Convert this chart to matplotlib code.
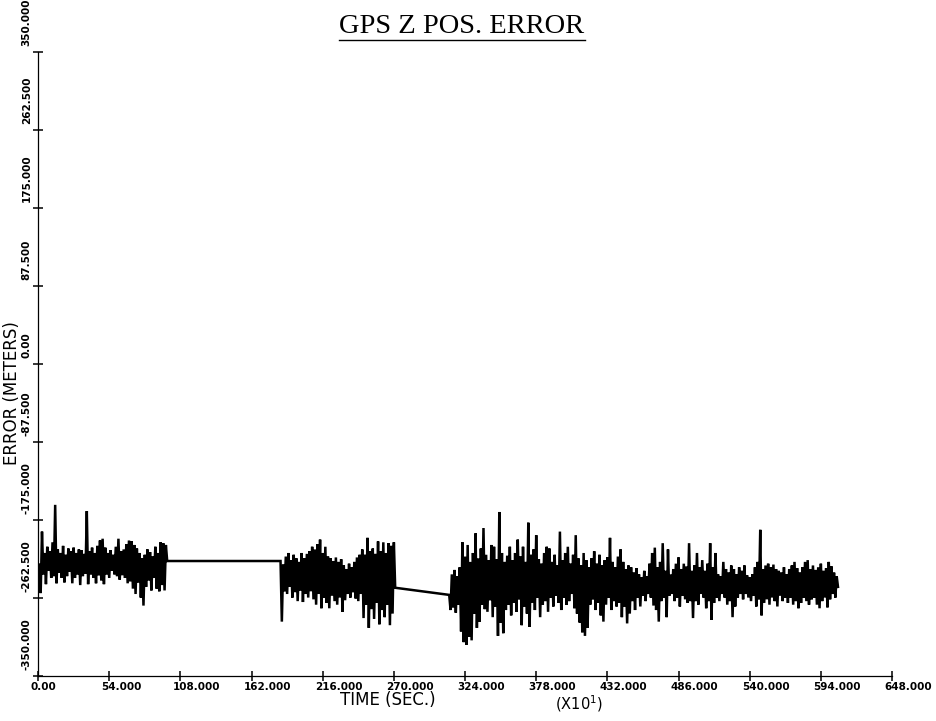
import numpy as np
import matplotlib
matplotlib.use("Agg")
import matplotlib.pyplot as plt
from matplotlib.transforms import ScaledTranslation

# axis ticks
xticks = [0, 54, 108, 162, 216, 270, 324, 378, 432, 486, 540, 594, 648]
xlabels = ['0.00', '54.000', '108.000', '162.000', '216.000', '270.000', '324.000',
           '378.000', '432.000', '486.000', '540.000', '594.000', '648.000']
yticks = [-350, -262.5, -175, -87.5, 0, 87.5, 175, 262.5, 350]
ylabels = ['-350.000', '-262.500', '-175.000', '-87.500', '0.00',
           '87.500', '175.000', '262.500', '350.000']

# error trace: upper / lower swing every 2 time units
# segment 1 (t = 1 .. 98)
seg1_t0 = 1
seg1_hi = [-225, -188, -212, -205, -210, -200, -158, -208, -212, -204,
           -214, -207, -210, -206, -212, -208, -209, -213, -165, -210,
           -206, -212, -204, -198, -196, -206, -212, -209, -214, -205,
           -196, -210, -208, -202, -198, -199, -203, -207, -212, -218,
           -214, -208, -211, -216, -205, -212, -200, -201, -203]
seg1_lo = [-257, -236, -247, -232, -240, -238, -246, -234, -240, -245,
           -238, -233, -246, -240, -236, -248, -238, -235, -247, -236,
           -240, -246, -237, -243, -247, -236, -240, -232, -236, -238,
           -242, -237, -240, -246, -244, -252, -258, -245, -262, -271,
           -250, -243, -254, -240, -252, -255, -248, -254, -221]

# segment 2 (t = 184 .. 271)
seg2_t0 = 184
seg2_hi = [-221, -225, -216, -212, -220, -214, -218, -222, -212, -218,
           -213, -210, -205, -208, -202, -197, -212, -205, -216, -218,
           -221, -217, -222, -219, -226, -230, -224, -228, -222, -217,
           -214, -208, -214, -195, -210, -207, -213, -199, -210, -200,
           -212, -201, -204, -200]
seg2_lo = [-289, -255, -258, -250, -262, -256, -266, -254, -267, -258,
           -262, -255, -264, -270, -258, -274, -262, -268, -274, -260,
           -266, -270, -262, -278, -265, -258, -262, -256, -263, -266,
           -258, -285, -270, -296, -275, -286, -268, -292, -276, -284,
           -270, -293, -280, -251]

# segment 3 (t = 312 .. 607)
seg3_t0 = 312
seg3_hi = [-259, -236, -231, -238, -228, -200, -216, -203, -222, -212,
           -190, -218, -207, -184, -214, -220, -203, -205, -219, -166,
           -212, -222, -215, -205, -220, -212, -197, -216, -205, -222,
           -178, -214, -208, -192, -219, -224, -212, -205, -207, -222,
           -214, -226, -188, -220, -212, -205, -224, -214, -192, -218,
           -226, -212, -220, -228, -218, -210, -224, -214, -226, -220,
           -217, -195, -222, -228, -216, -208, -222, -230, -226, -228,
           -234, -229, -236, -239, -232, -238, -224, -212, -206, -228,
           -222, -201, -232, -208, -236, -230, -224, -217, -230, -224,
           -227, -201, -232, -226, -212, -228, -220, -232, -224, -201,
           -228, -212, -236, -238, -222, -230, -234, -226, -230, -236,
           -228, -232, -226, -237, -239, -236, -228, -222, -186, -230,
           -226, -224, -228, -225, -230, -232, -234, -228, -236, -230,
           -226, -222, -229, -234, -228, -222, -220, -230, -226, -231,
           -228, -224, -232, -229, -222, -227, -234, -238]
seg3_lo = [-276, -273, -279, -270, -300, -312, -315, -306, -310, -280,
           -296, -289, -270, -275, -278, -265, -284, -272, -305, -290,
           -302, -276, -270, -282, -268, -278, -264, -293, -272, -280,
           -295, -268, -276, -262, -284, -270, -266, -278, -262, -272,
           -260, -268, -276, -262, -270, -266, -258, -274, -280, -290,
           -301, -305, -296, -270, -264, -276, -268, -282, -289, -270,
           -262, -276, -266, -272, -268, -284, -272, -291, -280, -266,
           -276, -262, -272, -260, -266, -258, -262, -271, -276, -289,
           -266, -262, -284, -260, -258, -266, -262, -272, -260, -264,
           -268, -266, -285, -266, -270, -258, -262, -274, -266, -287,
           -268, -262, -266, -258, -262, -270, -266, -284, -272, -262,
           -258, -264, -258, -262, -266, -260, -272, -264, -282, -268,
           -264, -270, -262, -266, -272, -260, -266, -262, -268, -262,
           -270, -266, -274, -268, -262, -266, -270, -264, -262, -270,
           -274, -266, -262, -273, -264, -258, -262, -250]


def zigzag(t0, hi, lo):
    n = len(hi)
    t = t0 + 2.0 * np.arange(n)
    tt = np.empty(2 * n)
    vv = np.empty(2 * n)
    tt[0::2], tt[1::2] = t, t + 1
    vv[0::2], vv[1::2] = hi, lo
    return tt, vv


parts = [zigzag(seg1_t0, seg1_hi, seg1_lo),
         zigzag(seg2_t0, seg2_hi, seg2_lo),
         zigzag(seg3_t0, seg3_hi, seg3_lo)]
time = np.concatenate([p[0] for p in parts])
err = np.concatenate([p[1] for p in parts])

fig = plt.figure(figsize=(9.37, 7.21), dpi=100)
ax = fig.add_axes([0.0406, 0.0624, 0.9114, 0.8655])

ax.plot(time, err, color='black', lw=1.8, solid_joinstyle='miter')

ax.set_xlim(0, 648)
ax.set_ylim(-350, 350)
for s in ['top', 'right']:
    ax.spines[s].set_visible(False)
for s in ['left', 'bottom']:
    ax.spines[s].set_linewidth(0.9)

ax.tick_params(direction='inout', length=7, width=1.1, pad=1)
ax.set_xticks(xticks)
ax.set_xticklabels(xlabels, fontsize=7.5, fontweight='bold', ha='left')
ax.set_yticks(yticks)
ax.set_yticklabels(ylabels, fontsize=7.5, fontweight='bold', rotation=90,
                   va='bottom', ha='right')
for lab in ax.get_xticklabels():
    lab.set_transform(lab.get_transform() + ScaledTranslation(-8 / 100, 0, fig.dpi_scale_trans))
for lab in ax.get_yticklabels():
    lab.set_transform(lab.get_transform() + ScaledTranslation(0, 6 / 100, fig.dpi_scale_trans))

fig.text(0.414, 1 - 705 / 721, 'TIME (SEC.)', fontsize=12, ha='center', va='baseline')
fig.text(0.618, 1 - 709 / 721, '(X10$^1$)', fontsize=10.5, ha='center', va='baseline')
fig.text(0.0125, 0.455, 'ERROR (METERS)', fontsize=12, rotation=90,
         ha='center', va='center')

title = fig.text(0.493, 1 - 33 / 721, 'GPS Z POS. ERROR', family='Liberation Serif',
                 fontsize=20.5, ha='center', va='baseline')
fig.canvas.draw()
bb = title.get_window_extent().transformed(fig.transFigure.inverted())
fig.add_artist(plt.Line2D([bb.x0, bb.x1], [1 - 40 / 721] * 2, color='black', lw=1.0))

fig.savefig('out.png', dpi=100)
